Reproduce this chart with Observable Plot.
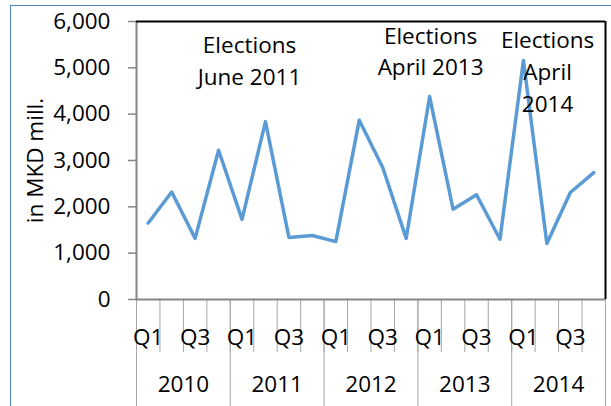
<!DOCTYPE html>
<html>
<head>
<meta charset="utf-8">
<script src="https://cdn.jsdelivr.net/npm/d3@7"></script>
<script src="https://cdn.jsdelivr.net/npm/@observablehq/plot@0.6"></script>
<style>
  html, body { margin: 0; padding: 0; background: #fff; overflow: hidden; }
  #wrap { position: relative; width: 611px; height: 406px; overflow: hidden; }
  #wrap svg { position: absolute; left: 0; top: 0; }
  #border { position: absolute; left: 10px; top: 5px; width: 700px; height: 500px;
            border: 1.5px solid #4a86c8; pointer-events: none; }
</style>
</head>
<body>
<div id="wrap"><div id="border"></div></div>
<script>
const quarters = ["Q1", "Q2", "Q3", "Q4"];
const years = [2010, 2011, 2012, 2013, 2014];
const values = [1650, 2320, 1320, 3220, 1730, 3840, 1340, 1380, 1250, 3870,
                2850, 1320, 4380, 1950, 2260, 1300, 5160, 1210, 2310, 2740];
const yTicks = [0, 1000, 2000, 3000, 4000, 5000, 6000];
const shownQuarters = ["Q1", "Q3"];
const yLabel = "in MKD mill.";
const annotations = [
  {label: "Elections\nJune 2011", at: 4.82, v: 5190},
  {label: "Elections\nApril 2013", at: 12.54, v: 5400},
  {label: "Elections\nApril\n2014", at: 17.53, v: 4960}
];

const data = values.map((v, i) => ({i, year: years[Math.floor(i / 4)], q: quarters[i % 4], v}));
const n = data.length;
const fs = 22.5;

const chart = Plot.plot({
  width: 611, height: 406,
  marginLeft: 136, marginRight: 6, marginTop: 21, marginBottom: 107,
  style: {fontFamily: "'Open Sans', sans-serif", fontSize: fs + "px", color: "black", background: "transparent", overflow: "visible"},
  x: {domain: [0, n], axis: null},
  y: {domain: [0, 6000], axis: null},
  marks: [
    Plot.axisX(d3.range(n + 1), {tickSize: 53, tickFormat: () => "", stroke: "#a6a6a6", strokeWidth: 1, label: null}),
    Plot.axisX(d3.range(0, n + 1, 4), {tickSize: 107, tickFormat: () => "", stroke: "#a6a6a6", strokeWidth: 1, label: null}),
    Plot.axisX(data.filter(d => shownQuarters.includes(d.q)).map(d => d.i + 0.5),
      {tickSize: 0, tickPadding: 30, tickFormat: t => quarters[Math.round(t - 0.5) % 4], fontSize: fs, label: null}),
    Plot.axisX(years.map((y, k) => k * 4 + 2),
      {tickSize: 0, tickPadding: 77, tickFormat: t => String(years[(t - 2) / 4]), fontSize: fs, label: null}),
    Plot.axisY(yTicks, {tickSize: 8, tickPadding: 18, tickFormat: d3.format(","), stroke: "#868686", strokeWidth: 1.5, fontSize: fs, label: null}),
    Plot.ruleX([0], {stroke: "#868686", strokeWidth: 2}),
    Plot.ruleY([0], {stroke: "#868686", strokeWidth: 2}),
    Plot.ruleY([6000], {stroke: "black", strokeWidth: 2}),
    Plot.ruleX([n], {stroke: "black", strokeWidth: 2}),
    Plot.line(data, {x: d => d.i + 0.5, y: "v", stroke: "#5b9bd5", strokeWidth: 3.5}),
    Plot.text(annotations, {x: "at", y: "v", text: "label", lineHeight: 1.42, lineAnchor: "middle", fontSize: fs, fill: "black"}),
    Plot.text([yLabel], {text: d => d, frameAnchor: "left", rotate: -90, dx: -101, dy: 0, textAnchor: "middle", lineAnchor: "middle", fontSize: fs, fill: "black"})
  ]
});
document.getElementById("wrap").appendChild(chart);
</script>
</body>
</html>
